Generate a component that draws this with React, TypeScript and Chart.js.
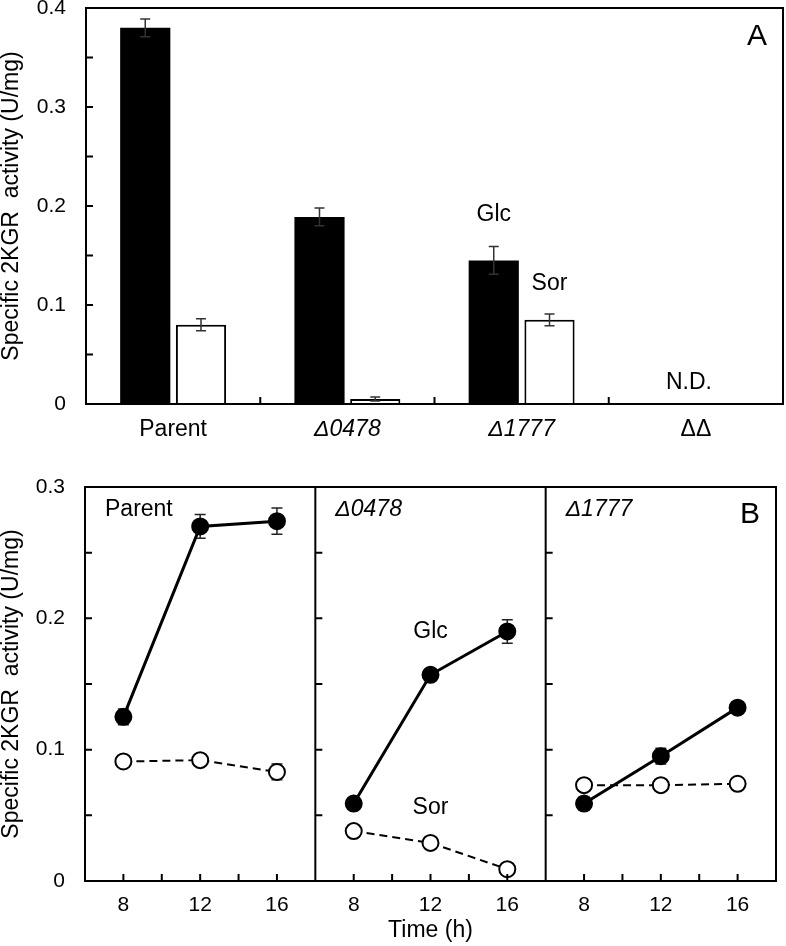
import { useEffect, useRef } from 'react';
import { Chart, registerables } from 'chart.js';

Chart.register(...registerables);

const FONT = '"Liberation Sans", Arial, Helvetica, sans-serif';
const Y_TITLE = 'Specific 2KGR  activity (U/mg)';

// ---- Panel A: activity per strain ----
const strains = ['Parent', 'Δ0478', 'Δ1777', 'ΔΔ'];
const italicStrains = ['Δ0478', 'Δ1777'];
const glcActivity = [0.38, 0.189, 0.145, 0];
const glcError = [0.009, 0.009, 0.014, 0];
const sorActivity = [0.08, 0.005, 0.085, 0];
const sorError = [0.006, 0.002, 0.006, 0];
const activityTicksA = [0, 0.1, 0.2, 0.3, 0.4];

// ---- Panel B: time course ----
const hours = [8, 12, 16];
const hourTicks = [8, 10, 12, 14, 16];
const panelSpan = [6, 18];
const panelNames = ['Parent', 'Δ0478', 'Δ1777'];
const activityTicksB = [0, 0.1, 0.2, 0.3];

const parentGlc = [0.125, 0.27, 0.274];
const parentGlcErr = [0.006, 0.009, 0.01];
const parentSor = [0.091, 0.092, 0.083];
const parentSorErr = [0.002, 0.002, 0.006];
const d0478Glc = [0.059, 0.157, 0.19];
const d0478GlcErr = [0.003, 0.004, 0.009];
const d0478Sor = [0.038, 0.029, 0.009];
const d0478SorErr = [0.002, 0.002, 0.002];
const d1777Glc = [0.059, 0.095, 0.132];
const d1777GlcErr = [0.005, 0.006, 0.003];
const d1777Sor = [0.073, 0.073, 0.074];
const d1777SorErr = [0.002, 0.002, 0.002];

const glcSeries = [parentGlc, d0478Glc, d1777Glc];
const glcSeriesErr = [parentGlcErr, d0478GlcErr, d1777GlcErr];
const sorSeries = [parentSor, d0478Sor, d1777Sor];
const sorSeriesErr = [parentSorErr, d0478SorErr, d1777SorErr];

const spanWidth = panelSpan[1] - panelSpan[0];
// the three strain panels share one linear axis, laid side by side
const xPos = (panel: number, hour: number) => panel * spanWidth + (hour - panelSpan[0]);

const isMajor = (v: number, majors: number[]) => majors.some((m) => Math.abs(m - v) < 1e-6);
const fmt = (v: number) => (Math.abs(v) < 1e-9 ? '0' : v.toFixed(1));

function textFont(size: number, italic = false) {
  return `${italic ? 'italic ' : ''}${size}px ${FONT}`;
}

const panelAPlugin = {
  id: 'panelA',
  afterDatasetsDraw(chart: any) {
    const { ctx, chartArea: a, scales } = chart;
    const x = scales.x;
    const y = scales.y;
    ctx.save();
    // error bars
    ctx.strokeStyle = '#333';
    ctx.lineWidth = 1.5;
    chart.data.datasets.forEach((ds: any, di: number) => {
      const meta = chart.getDatasetMeta(di);
      ds.errors.forEach((e: number, i: number) => {
        if (!e) return;
        const bx = meta.data[i].x;
        const v = ds.data[i];
        const top = y.getPixelForValue(v + e);
        const bot = y.getPixelForValue(v - e);
        ctx.beginPath();
        ctx.moveTo(bx, top);
        ctx.lineTo(bx, bot);
        ctx.moveTo(bx - 5, top);
        ctx.lineTo(bx + 5, top);
        ctx.moveTo(bx - 5, bot);
        ctx.lineTo(bx + 5, bot);
        ctx.stroke();
      });
    });
    // frame
    ctx.strokeStyle = '#000';
    ctx.lineWidth = 2;
    ctx.strokeRect(a.left, a.top, a.right - a.left, a.bottom - a.top);
    ctx.beginPath();
    y.ticks.forEach((t: any) => {
      const py = y.getPixelForValue(t.value);
      ctx.moveTo(a.left, py);
      ctx.lineTo(a.left + 7, py);
    });
    for (let i = 1; i < strains.length; i++) {
      const px = (x.getPixelForValue(i - 1) + x.getPixelForValue(i)) / 2;
      ctx.moveTo(px, a.bottom);
      ctx.lineTo(px, a.bottom - 7);
    }
    ctx.stroke();
    // notes
    ctx.fillStyle = '#000';
    ctx.textAlign = 'center';
    ctx.textBaseline = 'middle';
    ctx.font = textFont(23);
    const glcMeta = chart.getDatasetMeta(0);
    const sorMeta = chart.getDatasetMeta(1);
    ctx.fillText('Glc', glcMeta.data[2].x, y.getPixelForValue(0.191));
    ctx.fillText('Sor', sorMeta.data[2].x, y.getPixelForValue(0.122));
    ctx.fillText('N.D.', x.getPixelForValue(3) - 7, y.getPixelForValue(0.022));
    ctx.font = textFont(30);
    ctx.textAlign = 'right';
    ctx.fillText('A', a.right - 16, a.top + 29);
    ctx.restore();
  },
};

const panelBPlugin = {
  id: 'panelB',
  beforeDatasetsDraw(chart: any) {
    const { ctx, scales } = chart;
    const y = scales.y;
    ctx.save();
    ctx.strokeStyle = '#222';
    ctx.lineWidth = 1.5;
    chart.data.datasets.forEach((ds: any, di: number) => {
      const meta = chart.getDatasetMeta(di);
      ds.errors.forEach((e: number, i: number) => {
        if (!e) return;
        const pt = meta.data[i];
        const v = ds.data[i].y;
        const top = y.getPixelForValue(v + e);
        const bot = y.getPixelForValue(v - e);
        ctx.beginPath();
        ctx.moveTo(pt.x, top);
        ctx.lineTo(pt.x, bot);
        ctx.moveTo(pt.x - 5.5, top);
        ctx.lineTo(pt.x + 5.5, top);
        ctx.moveTo(pt.x - 5.5, bot);
        ctx.lineTo(pt.x + 5.5, bot);
        ctx.stroke();
      });
    });
    ctx.restore();
  },
  afterDraw(chart: any) {
    const { ctx, chartArea: a, scales } = chart;
    const x = scales.x;
    const y = scales.y;
    ctx.save();
    ctx.strokeStyle = '#000';
    ctx.lineWidth = 2;
    ctx.strokeRect(a.left, a.top, a.right - a.left, a.bottom - a.top);
    ctx.beginPath();
    panelNames.forEach((_, p) => {
      const left = x.getPixelForValue(xPos(p, panelSpan[0]));
      if (p > 0) {
        ctx.moveTo(left, a.top);
        ctx.lineTo(left, a.bottom);
      }
      y.ticks.forEach((t: any) => {
        const py = y.getPixelForValue(t.value);
        ctx.moveTo(left, py);
        ctx.lineTo(left + 7, py);
      });
      hourTicks.forEach((h) => {
        const px = x.getPixelForValue(xPos(p, h));
        ctx.moveTo(px, a.bottom);
        ctx.lineTo(px, a.bottom - 7);
      });
    });
    ctx.stroke();
    // panel names
    ctx.fillStyle = '#000';
    ctx.textBaseline = 'middle';
    ctx.textAlign = 'left';
    panelNames.forEach((name, p) => {
      ctx.font = textFont(23, italicStrains.includes(name));
      ctx.fillText(name, x.getPixelForValue(xPos(p, panelSpan[0])) + 20, a.top + 23);
    });
    ctx.textAlign = 'center';
    ctx.font = textFont(23);
    ctx.fillText('Glc', x.getPixelForValue(xPos(1, 12)), y.getPixelForValue(0.19));
    ctx.fillText('Sor', x.getPixelForValue(xPos(1, 12)), y.getPixelForValue(0.056));
    ctx.font = textFont(30);
    ctx.textAlign = 'right';
    ctx.fillText('B', a.right - 16, a.top + 28);
    ctx.restore();
  },
};

function fixSize(axis: any, width?: number, height?: number) {
  if (width !== undefined) axis.width = width;
  if (height !== undefined) axis.height = height;
  axis.paddingLeft = 0;
  axis.paddingRight = 0;
  axis.paddingTop = 0;
  axis.paddingBottom = 0;
}

export default function App() {
  const aRef = useRef<HTMLCanvasElement>(null);
  const bRef = useRef<HTMLCanvasElement>(null);

  useEffect(() => {
    Chart.defaults.color = '#000';
    Chart.defaults.font.family = FONT;

    const chartA = new Chart(aRef.current as HTMLCanvasElement, {
      type: 'bar',
      data: {
        labels: strains,
        datasets: [
          {
            label: 'Glc',
            data: glcActivity,
            errors: glcError,
            backgroundColor: '#000',
            borderColor: '#000',
            borderWidth: 0,
          } as any,
          {
            label: 'Sor',
            data: sorActivity,
            errors: sorError,
            backgroundColor: '#fff',
            borderColor: '#000',
            borderWidth: 2,
          } as any,
        ],
      },
      options: {
        responsive: false,
        animation: false,
        devicePixelRatio: 1,
        categoryPercentage: 0.64,
        barPercentage: 0.9,
        layout: { padding: { top: 8, right: 3, left: 0, bottom: 0 } },
        plugins: { legend: { display: false }, tooltip: { enabled: false } },
        scales: {
          x: {
            grid: { display: false, drawTicks: false },
            border: { display: false },
            ticks: {
              padding: 14,
              maxRotation: 0,
              autoSkip: false,
              font: (c: any) => ({
                family: FONT,
                size: 23,
                lineHeight: 1,
                style: italicStrains.includes(strains[c.index]) ? 'italic' : 'normal',
              }),
            },
            afterFit: (axis: any) => fixSize(axis, undefined, 56),
          },
          y: {
            min: 0,
            max: 0.4,
            grid: { display: false, drawTicks: false },
            border: { display: false },
            ticks: {
              stepSize: 0.05,
              padding: 20,
              font: { family: FONT, size: 21 },
              callback: (v: any) => (isMajor(Number(v), activityTicksA) ? fmt(Number(v)) : ''),
            },
            title: {
              display: true,
              text: Y_TITLE,
              font: { family: FONT, size: 23, lineHeight: 1 },
              padding: { top: 0, bottom: 0 },
            },
            afterFit: (axis: any) => fixSize(axis, 86),
          },
        },
      } as any,
      plugins: [panelAPlugin],
    });

    const datasetsB: any[] = [];
    panelNames.forEach((_, p) => {
      datasetsB.push({
        label: 'Glc',
        data: hours.map((h, i) => ({ x: xPos(p, h), y: glcSeries[p][i] })),
        errors: glcSeriesErr[p],
        borderColor: '#000',
        borderWidth: 3,
        backgroundColor: '#000',
        pointBackgroundColor: '#000',
        pointBorderColor: '#000',
        pointBorderWidth: 2,
        pointRadius: 8,
        tension: 0,
        order: 1,
      });
      datasetsB.push({
        label: 'Sor',
        data: hours.map((h, i) => ({ x: xPos(p, h), y: sorSeries[p][i] })),
        errors: sorSeriesErr[p],
        borderColor: '#000',
        borderWidth: 2,
        borderDash: [8, 5],
        backgroundColor: '#fff',
        pointBackgroundColor: '#fff',
        pointBorderColor: '#000',
        pointBorderWidth: 2,
        pointRadius: 8,
        tension: 0,
        order: 0,
      });
    });

    const chartB = new Chart(bRef.current as HTMLCanvasElement, {
      type: 'line',
      data: { datasets: datasetsB },
      options: {
        responsive: false,
        animation: false,
        devicePixelRatio: 1,
        layout: { padding: { top: 27, right: 2, left: 0, bottom: 0 } },
        plugins: { legend: { display: false }, tooltip: { enabled: false } },
        scales: {
          x: {
            type: 'linear',
            min: 0,
            max: spanWidth * panelNames.length,
            grid: { display: false, drawTicks: false },
            border: { display: false },
            ticks: {
              stepSize: 2,
              autoSkip: false,
              maxRotation: 0,
              padding: 14,
              font: { family: FONT, size: 21, lineHeight: 1 },
              callback: (v: any) => {
                const n = Number(v);
                const local = (n % spanWidth) + panelSpan[0];
                return n % spanWidth !== 0 && hours.includes(local) ? String(local) : '';
              },
            },
            title: {
              display: true,
              text: 'Time (h)',
              font: { family: FONT, size: 23, lineHeight: 1 },
              padding: { top: 0, bottom: 4 },
            },
            afterFit: (axis: any) => fixSize(axis, undefined, 65),
          },
          y: {
            min: 0,
            max: 0.3,
            grid: { display: false, drawTicks: false },
            border: { display: false },
            ticks: {
              stepSize: 0.05,
              padding: 20,
              font: { family: FONT, size: 21 },
              callback: (v: any) => (isMajor(Number(v), activityTicksB) ? fmt(Number(v)) : ''),
            },
            title: {
              display: true,
              text: Y_TITLE,
              font: { family: FONT, size: 23, lineHeight: 1 },
              padding: { top: 0, bottom: 0 },
            },
            afterFit: (axis: any) => fixSize(axis, 85),
          },
        },
      } as any,
      plugins: [panelBPlugin],
    });

    return () => {
      chartA.destroy();
      chartB.destroy();
    };
  }, []);

  return (
    <div style={{ position: 'absolute', left: 0, top: 0, width: 786, height: 946, background: '#fff' }}>
      <canvas ref={aRef} width={786} height={460} style={{ position: 'absolute', left: 0, top: 0 }} />
      <canvas ref={bRef} width={786} height={486} style={{ position: 'absolute', left: 0, top: 460 }} />
    </div>
  );
}
